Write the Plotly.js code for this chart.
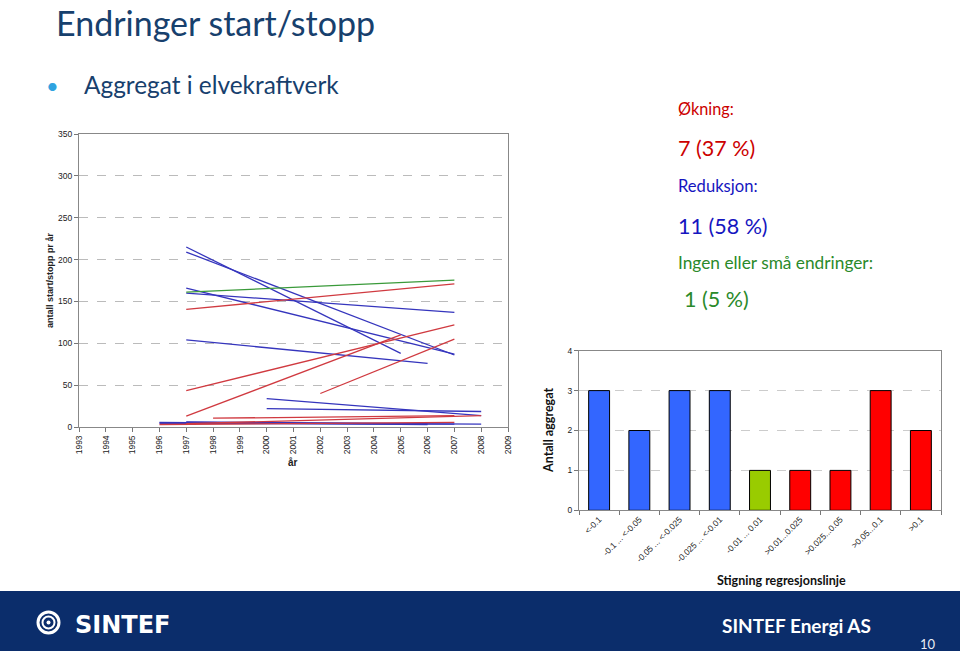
<!DOCTYPE html>
<html>
<head>
<meta charset="utf-8">
<script src="https://cdn.plot.ly/plotly-3.0.1.min.js"></script>
<style>html,body{margin:0;padding:0;background:#fff;}#chart{width:960px;height:651px;}</style>
</head>
<body>
<div id="chart"></div>
<script>
// ---- Left chart: regression lines per unit (start/stop per year) ----
const lineStartYear = [1997, 1997, 1997, 1997, 1997, 2000, 2000, 1996, 1997, 1996, 1997, 1997, 1997, 1997, 2002, 1998, 1997, 1996, 1997];
const lineEndYear   = [2005, 2007, 2007, 2007, 2006, 2008, 2008, 2006, 2008, 2007, 2006, 2007, 2007, 2005, 2007, 2007, 2008, 2007, 2007];
const lineStartVal  = [215, 209, 166, 160, 104, 34, 22, 5.5, 5.5, 4.5, 6, 140.5, 43.5, 13, 40, 10.5, 4, 3, 161];
const lineEndVal    = [88, 86, 87, 137, 76, 13.5, 18.5, 3, 3.5, 3.5, 4, 171, 122, 110, 105, 13.5, 13.5, 5.5, 175.5];
const lineTrend     = ['ned','ned','ned','ned','ned','ned','ned','ned','ned','ned','ned','opp','opp','opp','opp','opp','opp','opp','flat'];
const yearTicks = [1993,1994,1995,1996,1997,1998,1999,2000,2001,2002,2003,2004,2005,2006,2007,2008,2009];

// ---- Right chart: histogram of slopes ----
const slopeCategories = ['<-0.1', '-0.1 ... <-0.05', '-0.05 ... <-0.025', '-0.025 ... <-0.01', '-0.01 ... 0.01', '>0.01...0.025', '>0.025...0.05', '>0.05...0.1', '>0.1'];
const unitCounts = [3, 2, 3, 3, 1, 1, 1, 3, 2];
const slopeGroup = ['ned','ned','ned','ned','flat','opp','opp','opp','opp'];

const lineColor = {ned: '#3535BD', opp: '#D03A40', flat: '#3A9A3A'};
const barColor = {ned: '#3366FF', opp: '#FF0000', flat: '#99CC00'};

const W = 960, H = 651;
const px = x => x / W;
const py = y => 1 - y / H;

const traces = [];
for (let i = 0; i < lineStartYear.length; i++) {
  traces.push({
    type: 'scatter', mode: 'lines',
    x: [lineStartYear[i], lineEndYear[i]],
    y: [lineStartVal[i], lineEndVal[i]],
    line: {color: lineColor[lineTrend[i]], width: 1.3},
    xaxis: 'x', yaxis: 'y', hoverinfo: 'skip', showlegend: false
  });
}
traces.push({
  type: 'bar', x: slopeCategories, y: unitCounts,
  marker: {color: slopeGroup.map(g => barColor[g]), line: {color: '#000', width: 1}},
  xaxis: 'x2', yaxis: 'y2', showlegend: false, hoverinfo: 'skip'
});

const tickFont = {family: 'Liberation Sans, Arial, sans-serif', size: 8.5, color: '#222'};
const slideFont = 'Lato, Calibri, sans-serif';
const navy = '#17406D';

const layout = {
  width: W, height: H,
  margin: {l: 0, r: 0, t: 0, b: 0},
  paper_bgcolor: '#fff', plot_bgcolor: '#fff',
  showlegend: false,
  bargap: 0.48,
  xaxis: {
    domain: [px(79), px(508)], anchor: 'y',
    range: [1993, 2009], tickvals: yearTicks, ticktext: yearTicks.map(String),
    tickangle: -90, tickfont: tickFont, ticks: 'outside', ticklen: 4, tickcolor: '#777',
    showline: true, linecolor: '#888', linewidth: 1, mirror: true,
    showgrid: false, zeroline: false, fixedrange: true
  },
  yaxis: {
    domain: [py(427), py(134)], anchor: 'x',
    range: [0, 350], dtick: 50, tickfont: tickFont,
    ticks: 'outside', ticklen: 4, tickcolor: '#777',
    showline: true, linecolor: '#888', linewidth: 1, mirror: true,
    showgrid: true, gridcolor: '#bbbbbb', griddash: 'dash', gridwidth: 1,
    zeroline: false, fixedrange: true
  },
  xaxis2: {
    domain: [px(579), px(941)], anchor: 'y2',
    type: 'category', tickangle: -45, tickfont: tickFont,
    ticks: 'outside', ticklen: 4, tickcolor: '#777', tickson: 'boundaries',
    showline: true, linecolor: '#888', linewidth: 1, mirror: true,
    showgrid: false, zeroline: false, fixedrange: true
  },
  yaxis2: {
    domain: [py(510.3), py(350.7)], anchor: 'x2',
    range: [0, 4], dtick: 1, tickfont: tickFont,
    ticks: 'outside', ticklen: 4, tickcolor: '#777',
    showline: true, linecolor: '#888', linewidth: 1, mirror: true,
    showgrid: true, gridcolor: '#cccccc', griddash: 'dash', gridwidth: 1,
    zeroline: false, fixedrange: true
  },
  shapes: [
    {type: 'rect', xref: 'paper', yref: 'paper', x0: 0, x1: 1, y0: 0, y1: py(591), fillcolor: '#0B2D6B', line: {width: 0}, layer: 'below'},
    {type: 'circle', xref: 'paper', yref: 'paper', x0: px(38), x1: px(59), y0: py(633), y1: py(612), line: {color: '#fff', width: 3}},
    {type: 'circle', xref: 'paper', yref: 'paper', x0: px(42.5), x1: px(54.5), y0: py(628.5), y1: py(616.5), line: {color: '#fff', width: 2}},
    {type: 'circle', xref: 'paper', yref: 'paper', x0: px(46.5), x1: px(50.5), y0: py(624.5), y1: py(620.5), fillcolor: '#fff', line: {color: '#fff', width: 0}}
  ],
  annotations: [
    {text: 'Endringer start/stopp', x: px(54), y: py(22), xref: 'paper', yref: 'paper', xanchor: 'left', yanchor: 'middle', showarrow: false, font: {family: slideFont, size: 34, color: navy}},
    {text: '•', x: px(52), y: py(85), xref: 'paper', yref: 'paper', xanchor: 'center', yanchor: 'middle', showarrow: false, font: {family: slideFont, size: 22, color: '#2FA3E0'}},
    {text: 'Aggregat i elvekraftverk', x: px(82), y: py(84), xref: 'paper', yref: 'paper', xanchor: 'left', yanchor: 'middle', showarrow: false, font: {family: slideFont, size: 24.4, color: navy}},
    {text: 'Økning:', x: px(676), y: py(109), xref: 'paper', yref: 'paper', xanchor: 'left', yanchor: 'middle', showarrow: false, font: {family: slideFont, size: 16.3, color: '#CC0000'}},
    {text: '7 (37 %)', x: px(676), y: py(148), xref: 'paper', yref: 'paper', xanchor: 'left', yanchor: 'middle', showarrow: false, font: {family: slideFont, size: 21.5, color: '#CC0000'}},
    {text: 'Reduksjon:', x: px(676), y: py(186), xref: 'paper', yref: 'paper', xanchor: 'left', yanchor: 'middle', showarrow: false, font: {family: slideFont, size: 16.6, color: '#1515C0'}},
    {text: '11 (58 %)', x: px(676), y: py(226), xref: 'paper', yref: 'paper', xanchor: 'left', yanchor: 'middle', showarrow: false, font: {family: slideFont, size: 21.5, color: '#1515C0'}},
    {text: 'Ingen eller små endringer:', x: px(676), y: py(262), xref: 'paper', yref: 'paper', xanchor: 'left', yanchor: 'middle', showarrow: false, font: {family: slideFont, size: 17.3, color: '#2A8A2A'}},
    {text: '1 (5 %)', x: px(682), y: py(299), xref: 'paper', yref: 'paper', xanchor: 'left', yanchor: 'middle', showarrow: false, font: {family: slideFont, size: 21.5, color: '#2A8A2A'}},
    {text: 'antall start/stopp pr år', x: px(50), y: py(280), xref: 'paper', yref: 'paper', xanchor: 'center', yanchor: 'middle', textangle: -90, showarrow: false, font: {family: 'Liberation Sans, Arial, sans-serif', size: 9, color: '#222', weight: 'bold'}},
    {text: 'år', x: px(293), y: py(462), xref: 'paper', yref: 'paper', xanchor: 'center', yanchor: 'middle', showarrow: false, font: {family: 'Liberation Sans, Arial, sans-serif', size: 10, color: '#222', weight: 'bold'}},
    {text: 'Antall aggregat', x: px(548), y: py(431), xref: 'paper', yref: 'paper', xanchor: 'center', yanchor: 'middle', textangle: -90, showarrow: false, font: {family: slideFont, size: 12.5, color: '#111', weight: 'bold'}},
    {text: 'Stigning regresjonslinje', x: px(781), y: py(580), xref: 'paper', yref: 'paper', xanchor: 'center', yanchor: 'middle', showarrow: false, font: {family: slideFont, size: 12.5, color: '#111', weight: 'bold'}},
    {text: 'SINTEF', x: px(73), y: py(625), xref: 'paper', yref: 'paper', xanchor: 'left', yanchor: 'middle', showarrow: false, font: {family: 'DejaVu Sans, sans-serif', size: 24, color: '#fff', weight: 'bold'}},
    {text: 'SINTEF Energi AS', x: px(796), y: py(625), xref: 'paper', yref: 'paper', xanchor: 'center', yanchor: 'middle', showarrow: false, font: {family: slideFont, size: 19, color: '#fff', weight: 'bold'}},
    {text: '10', x: px(928), y: py(644), xref: 'paper', yref: 'paper', xanchor: 'center', yanchor: 'middle', showarrow: false, font: {family: slideFont, size: 13, color: '#E8ECF4'}}
  ]
};

Plotly.newPlot('chart', traces, layout, {displayModeBar: false, staticPlot: true});
</script>
</body>
</html>
